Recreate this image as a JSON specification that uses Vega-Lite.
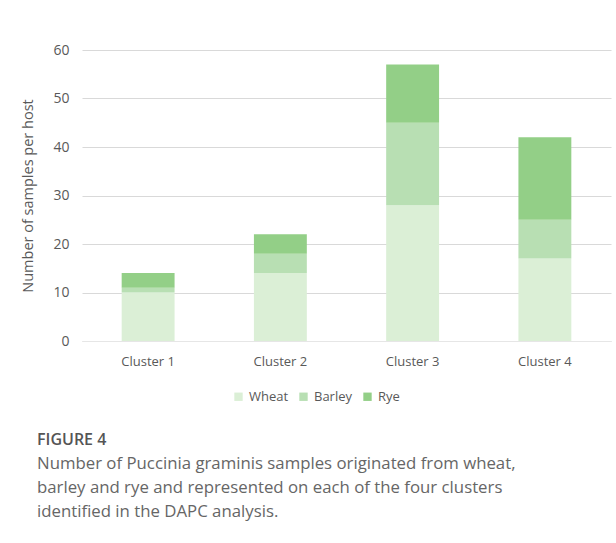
{
  "$schema": "https://vega.github.io/schema/vega-lite/v6.json",
  "width": 529,
  "height": 291,
  "autosize": "none",
  "padding": {"left": 82, "top": 50, "right": 5, "bottom": 202},
  "background": "white",
  "config": {
    "view": {"stroke": null},
    "font": "Open Sans"
  },
  "title": {
    "text": "FIGURE 4",
    "subtitle": ["Number of Puccinia graminis samples originated from wheat,", "barley and rye and represented on each of the four clusters", "identified in the DAPC analysis."],
    "orient": "bottom",
    "anchor": "start",
    "frame": "group",
    "dx": -45,
    "offset": 28,
    "font": "Open Sans",
    "fontSize": 16,
    "fontWeight": 600,
    "color": "#555555",
    "subtitleFont": "Open Sans",
    "subtitleFontSize": 16.8,
    "subtitleColor": "#666666",
    "subtitleLineHeight": 24,
    "subtitlePadding": 8
  },
  "data": {
    "values": [
      {"cluster": "Cluster 1", "host": "Wheat", "n": 10, "o": 1},
      {"cluster": "Cluster 1", "host": "Barley", "n": 1, "o": 2},
      {"cluster": "Cluster 1", "host": "Rye", "n": 3, "o": 3},
      {"cluster": "Cluster 2", "host": "Wheat", "n": 14, "o": 1},
      {"cluster": "Cluster 2", "host": "Barley", "n": 4, "o": 2},
      {"cluster": "Cluster 2", "host": "Rye", "n": 4, "o": 3},
      {"cluster": "Cluster 3", "host": "Wheat", "n": 28, "o": 1},
      {"cluster": "Cluster 3", "host": "Barley", "n": 17, "o": 2},
      {"cluster": "Cluster 3", "host": "Rye", "n": 12, "o": 3},
      {"cluster": "Cluster 4", "host": "Wheat", "n": 17, "o": 1},
      {"cluster": "Cluster 4", "host": "Barley", "n": 8, "o": 2},
      {"cluster": "Cluster 4", "host": "Rye", "n": 17, "o": 3}
    ]
  },
  "mark": {"type": "bar"},
  "encoding": {
    "x": {
      "field": "cluster",
      "type": "nominal",
      "scale": {"paddingInner": 0.6, "paddingOuter": 0.3},
      "axis": {
        "title": null,
        "labelAngle": 0,
        "ticks": false,
        "domain": true,
        "domainColor": "#e6e6e6",
        "labelColor": "#595959",
        "labelFontSize": 13,
        "labelPadding": 14,
        "labelFont": "Open Sans"
      }
    },
    "y": {
      "field": "n",
      "type": "quantitative",
      "stack": "zero",
      "scale": {"domain": [0, 60]},
      "axis": {
        "title": "Number of samples per host",
        "values": [0, 10, 20, 30, 40, 50, 60],
        "domain": false,
        "ticks": false,
        "gridColor": "#d9d9d9",
        "labelColor": "#595959",
        "labelFontSize": 14,
        "labelPadding": 13,
        "labelFont": "Open Sans",
        "titleColor": "#595959",
        "titleFontSize": 14.5,
        "titleFontWeight": "normal",
        "titleFont": "Open Sans",
        "titlePadding": 17
      }
    },
    "color": {
      "field": "host",
      "type": "nominal",
      "scale": {"domain": ["Wheat", "Barley", "Rye"], "range": ["#dbefd6", "#b8dfb3", "#93cf87"]},
      "legend": {
        "title": null,
        "orient": "none",
        "direction": "horizontal",
        "legendX": 150,
        "legendY": 340,
        "symbolType": "square",
        "symbolSize": 70,
        "symbolStrokeWidth": 0,
        "labelColor": "#595959",
        "labelFontSize": 13,
        "labelFont": "Open Sans",
        "columnPadding": 8,
        "labelOffset": 4
      }
    },
    "order": {"field": "o", "type": "quantitative"}
  }
}
